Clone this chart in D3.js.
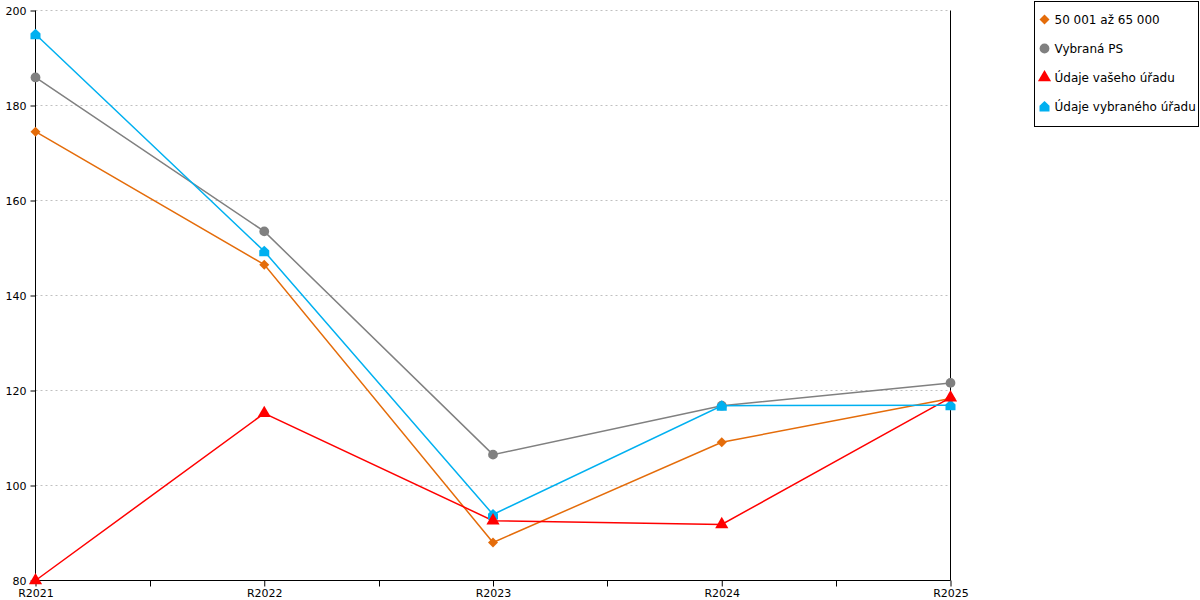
<!DOCTYPE html>
<html>
<head>
<meta charset="utf-8">
<script src="https://cdn.jsdelivr.net/npm/d3@7"></script>
<style>
  body { margin: 0; background: #fff; }
  svg { font-family: "DejaVu Sans", Verdana, sans-serif; }
</style>
</head>
<body>
<script>
// data
var years = ["R2021", "R2022", "R2023", "R2024", "R2025"];
var yTicks = [80, 100, 120, 140, 160, 180, 200];
var seriesNames = ["50 001 až 65 000", "Vybraná PS", "Údaje vašeho úřadu", "Údaje vybraného úřadu"];
var valsSize = [174.5, 146.5, 88.0, 109.1, 118.3];
var valsPS = [185.9, 153.5, 106.5, 116.8, 121.6];
var valsOwn = [80.0, 115.2, 92.6, 91.8, 118.5];
var valsSel = [195.0, 149.3, 93.9, 116.8, 116.9];

var colors = ["#e46c0a", "#808080", "#ff0000", "#00b0f0"];

// square diamond (rotated square)
var diamond = {
  draw: function(ctx, size) {
    var r = Math.sqrt(size) / 2;
    ctx.moveTo(0, -r);
    ctx.lineTo(r, 0);
    ctx.lineTo(0, r);
    ctx.lineTo(-r, 0);
    ctx.closePath();
  }
};
// house-shaped symbol (pentagon pointing up)
var house = {
  draw: function(ctx, size) {
    var r = Math.sqrt(size) / 2;
    ctx.moveTo(0, -r * 1.1);
    ctx.lineTo(r, -r * 0.15);
    ctx.lineTo(r, r);
    ctx.lineTo(-r, r);
    ctx.lineTo(-r, -r * 0.15);
    ctx.closePath();
  }
};
var symbols = [diamond, d3.symbolCircle, d3.symbolTriangle, house];
var sizes = [100, 75, 75, 100];

var series = [
  {name: seriesNames[0], values: valsSize},
  {name: seriesNames[1], values: valsPS},
  {name: seriesNames[2], values: valsOwn},
  {name: seriesNames[3], values: valsSel}
];
series.forEach(function(s, i) { s.color = colors[i]; s.symbol = symbols[i]; s.size = sizes[i]; });

var width = 1200, height = 600;
var svg = d3.select("body").append("svg")
    .attr("width", width)
    .attr("height", height);

var x = d3.scalePoint()
    .domain(years)
    .range([35.5, 950.5]);

var y = d3.scaleLinear()
    .domain([80, 200])
    .range([580.5, 10.5]);

// grid lines
svg.append("g")
  .selectAll("line")
  .data(yTicks.slice(1))
  .enter()
  .append("line")
    .attr("x1", x(years[0]))
    .attr("x2", x(years[years.length - 1]))
    .attr("y1", function(d) { return y(d); })
    .attr("y2", function(d) { return y(d); })
    .attr("stroke", "#c0c0c0")
    .attr("stroke-dasharray", "2,3");

// right border line
svg.append("line")
    .attr("x1", x(years[years.length - 1]))
    .attr("x2", x(years[years.length - 1]))
    .attr("y1", y(200))
    .attr("y2", y(80))
    .attr("stroke", "#000");

// y axis
var yAxis = svg.append("g")
    .attr("transform", "translate(" + x(years[0]) + ",0)")
    .call(d3.axisLeft(y).tickValues(yTicks).tickSize(5).tickPadding(4));
yAxis.selectAll("text").attr("font-size", 11).attr("font-family", "DejaVu Sans").attr("fill", "#000");
yAxis.select(".domain").attr("d", "M0," + y(80) + "V" + y(200));

// x axis
var xAxis = svg.append("g")
    .attr("transform", "translate(0," + y(80) + ")")
    .call(d3.axisBottom(x).tickSize(6).tickPadding(3));
xAxis.selectAll("text").attr("font-size", 11).attr("font-family", "DejaVu Sans").attr("fill", "#000");
xAxis.select(".domain").attr("d", "M" + x(years[0]) + ",0H" + x(years[years.length - 1]));

// minor ticks between categories
var mids = years.slice(1).map(function(d, i) { return (x(years[i]) + x(d)) / 2; });
xAxis.selectAll(".minor")
  .data(mids)
  .enter()
  .append("line")
    .attr("x1", function(d) { return Math.round(d) + 0.5; })
    .attr("x2", function(d) { return Math.round(d) + 0.5; })
    .attr("y1", 0)
    .attr("y2", 6)
    .attr("stroke", "#000");

var line = d3.line()
    .x(function(d, i) { return x(years[i]); })
    .y(function(d) { return y(d); });

// lines
svg.append("g")
  .selectAll("path")
  .data(series)
  .enter()
  .append("path")
    .attr("d", function(s) { return line(s.values); })
    .attr("fill", "none")
    .attr("stroke", function(s) { return s.color; })
    .attr("stroke-width", 1.5);

// markers: draw order orange, gray, blue, red
var markerOrder = [0, 1, 3, 2];
markerOrder.forEach(function(k) {
  var s = series[k];
  svg.append("g")
    .selectAll("path")
    .data(s.values)
    .enter()
    .append("path")
      .attr("transform", function(d, i) { return "translate(" + x(years[i]) + "," + y(d) + ")"; })
      .attr("d", d3.symbol().type(s.symbol).size(s.size))
      .attr("fill", s.color);
});

// legend
var legend = svg.append("g").attr("transform", "translate(1034.5,1.5)");
legend.append("rect")
    .attr("width", 164)
    .attr("height", 125)
    .attr("fill", "#fff")
    .attr("stroke", "#000");

var items = legend.selectAll(".item")
  .data(series)
  .enter()
  .append("g")
    .attr("transform", function(d, i) { return "translate(10," + (18 + i * 29) + ")"; });
items.append("path")
    .attr("d", function(s) { return d3.symbol().type(s.symbol).size(s.size)(); })
    .attr("fill", function(s) { return s.color; });
items.append("text")
    .attr("x", 10)
    .attr("y", 4.5)
    .attr("font-size", 12)
    .attr("fill", "#000")
    .text(function(s) { return s.name; });
</script>
</body>
</html>
